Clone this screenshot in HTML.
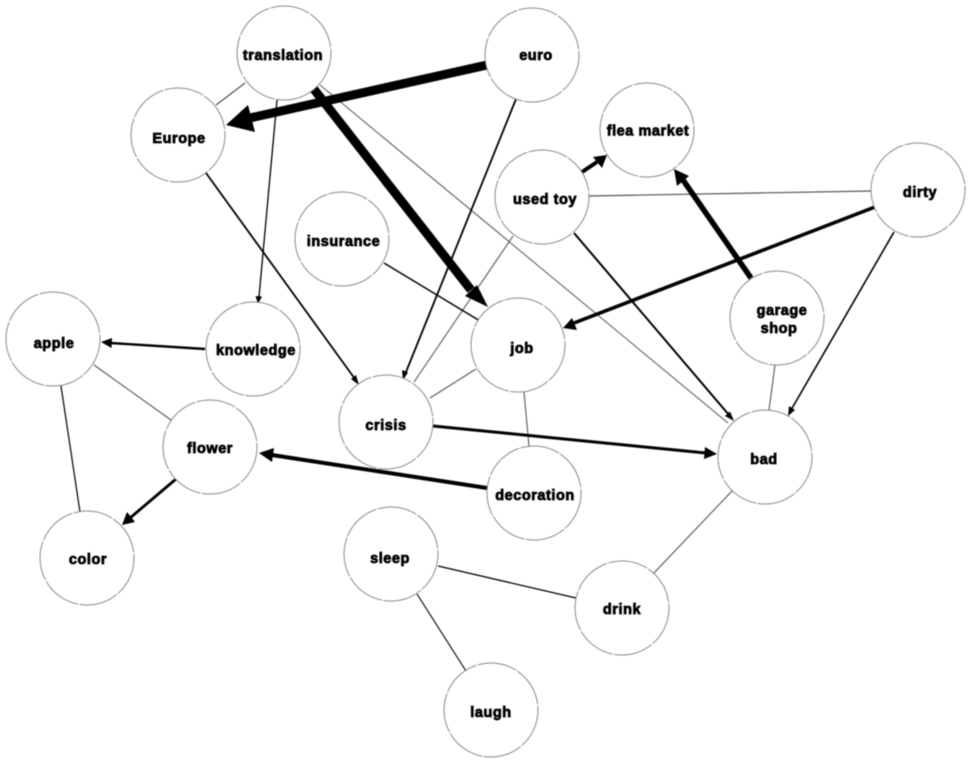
<!DOCTYPE html>
<html><head><meta charset="utf-8"><style>
html,body{margin:0;padding:0;background:#fff;width:971px;height:764px;overflow:hidden}
svg{display:block;filter:blur(.4px)}
text{font-family:"Liberation Sans",Arial,sans-serif;font-weight:700;font-size:14.5px;fill:#000;stroke:#000;stroke-width:.75px;text-anchor:middle;letter-spacing:.55px}
circle{fill:#fff;stroke:#8a8a8a;stroke-width:1;stroke-dasharray:40 1.5}
.g{stroke:#555;fill:none}
.k{stroke:#000;fill:none}
polygon{fill:#000}
</style></head><body>
<svg width="971" height="764" viewBox="0 0 971 764" xmlns="http://www.w3.org/2000/svg">
<line class="g" stroke-width="1.3" x1="245" y1="83" x2="216" y2="105"/>
<line class="g" stroke-width="1" x1="320" y1="85" x2="728" y2="423"/>
<line class="g" stroke-width="1.2" x1="589" y1="196" x2="871" y2="191"/>
<line class="g" stroke-width="1.1" x1="513" y1="236" x2="414" y2="382"/>
<line class="g" stroke-width="1.1" x1="476" y1="369" x2="430" y2="398"/>
<line class="g" stroke-width="1.1" x1="524" y1="392" x2="529" y2="446"/>
<line class="g" stroke-width="1.1" x1="775" y1="365" x2="769" y2="410"/>
<line class="g" stroke-width="1.1" x1="732" y1="491" x2="653" y2="574"/>
<line class="g" stroke-width="1.1" x1="94" y1="365" x2="171" y2="420"/>
<line class="k" stroke-width="1.2" x1="61" y1="386" x2="80" y2="512"/>
<line class="k" stroke-width="1.3" x1="438" y1="566" x2="576" y2="598"/>
<line class="k" stroke-width="1.1" x1="417" y1="594" x2="466" y2="671"/>
<line class="k" stroke-width="1.5" x1="384" y1="263" x2="480" y2="321"/>

<line class="k" stroke-width="1.3" x1="277" y1="100" x2="259" y2="297"/><polygon points="258,304 255.5,296 262,296.5"/>
<line class="k" stroke-width="1.8" x1="206" y1="173" x2="355" y2="379"/><polygon points="359,385 351,379 356,375"/>
<line class="k" stroke-width="1.8" x1="516" y1="99" x2="406" y2="372"/><polygon points="403,380 402,370 408,372.500"/>
<line class="k" stroke-width="2.4" x1="205" y1="349" x2="110" y2="343"/><polygon points="101,342 112,338 111.500,348"/>
<line class="k" stroke-width="4" x1="487" y1="488" x2="272" y2="455"/><polygon points="259,453 274,448 272,462"/>
<line class="k" stroke-width="2.800" x1="176" y1="479" x2="130" y2="518"/><polygon points="122,525 127,512 135,522"/>
<line class="k" stroke-width="3" x1="433" y1="426" x2="706" y2="453"/><polygon points="717,454 705,447 704,459"/>
<line class="k" stroke-width="2" x1="574" y1="233" x2="729" y2="415"/><polygon points="734,421 725,416 730,411.500"/>
<line class="k" stroke-width="1.6" x1="894" y1="232" x2="791" y2="410"/><polygon points="788,416 789,406 795,410"/>
<line class="k" stroke-width="3.600" x1="875" y1="207" x2="574" y2="323"/><polygon points="563,328 572,318 577,330"/>
<line class="k" stroke-width="5.500" x1="751" y1="278" x2="683" y2="180"/><polygon points="674,169 689,176 677,186"/>
<line class="k" stroke-width="4" x1="582" y1="172" x2="597" y2="162"/><polygon points="607,155 593,157 602,168"/>
<line class="k" stroke-width="9" x1="313" y1="88" x2="471" y2="290"/><polygon points="488,307 465,296 477,285"/>
<line class="k" stroke-width="9" x1="487" y1="65" x2="250" y2="118"/><polygon points="226,125 255,132 248,105"/>

<circle cx="284" cy="53" r="47"/>
<circle cx="532" cy="55" r="47"/>
<circle cx="178" cy="135" r="47"/>
<circle cx="647" cy="130" r="47"/>
<circle cx="542" cy="197" r="47"/>
<circle cx="918" cy="190" r="47"/>
<circle cx="342" cy="239" r="47"/>
<circle cx="777" cy="318" r="47"/>
<circle cx="518" cy="345" r="47"/>
<circle cx="53" cy="339" r="47"/>
<circle cx="253" cy="349" r="47"/>
<circle cx="386" cy="422" r="47"/>
<circle cx="210" cy="447" r="47"/>
<circle cx="765" cy="457" r="47"/>
<circle cx="534" cy="493" r="47"/>
<circle cx="87" cy="558" r="47"/>
<circle cx="391" cy="554" r="47"/>
<circle cx="622" cy="608" r="47"/>
<circle cx="491" cy="710" r="47"/>

<text x="283" y="60">translation</text>
<text x="536" y="60">euro</text>
<text x="179" y="143">Europe</text>
<text x="648" y="135.500">flea market</text>
<text x="545" y="204">used toy</text>
<text x="920" y="197">dirty</text>
<text x="343.500" y="246">insurance</text>
<text x="782" y="315">garage</text>
<text x="779" y="333">shop</text>
<text x="522" y="353">job</text>
<text x="54" y="348">apple</text>
<text x="256" y="355">knowledge</text>
<text x="386" y="430">crisis</text>
<text x="210" y="453">flower</text>
<text x="764" y="464">bad</text>
<text x="535" y="500">decoration</text>
<text x="88" y="564">color</text>
<text x="390" y="563">sleep</text>
<text x="622" y="614">drink</text>
<text x="491" y="717">laugh</text>
</svg>
</body></html>
